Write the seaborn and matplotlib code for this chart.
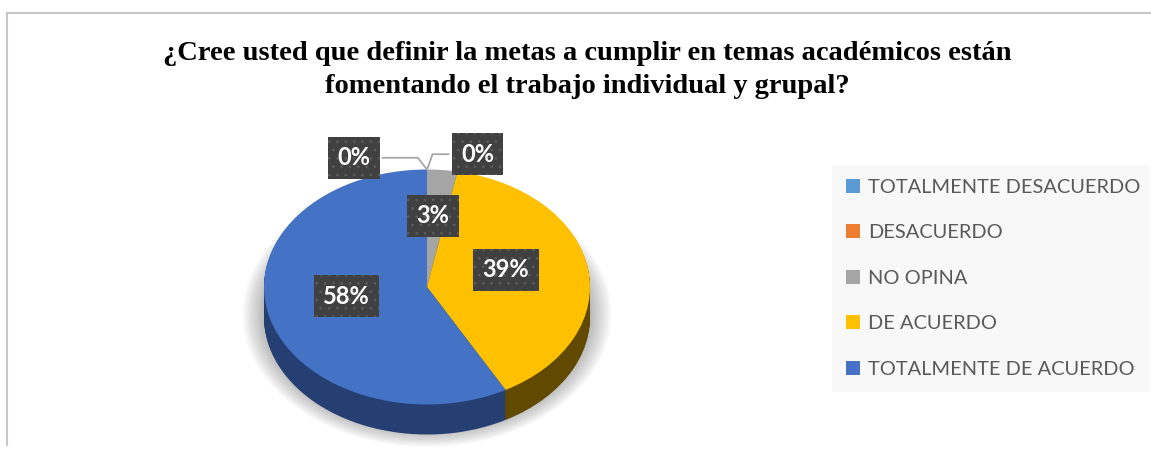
import numpy as np
import pandas as pd
import seaborn as sns
import matplotlib.pyplot as plt

# chart data
categories = ["TOTALMENTE DESACUERDO", "DESACUERDO", "NO OPINA", "DE ACUERDO", "TOTALMENTE DE ACUERDO"]
percentages = [0, 0, 3, 39, 58]
pct_labels = ["0%", "0%", "3%", "39%", "58%"]
top_colors = ["#5B9BD5", "#ED7D31", "#A5A5A5", "#FFC000", "#4472C4"]
side_colors = ["#2E4D6B", "#77401A", "#535353", "#614A00", "#253F72"]
title = ("¿Cree usted que definir la metas a cumplir en temas académicos están\n"
         "fomentando el trabajo individual y grupal?")

df = pd.DataFrame({"categoria": categories, "pct": percentages})

sns.set_style("white")
plt.rcParams['font.family'] = ['Lato', 'DejaVu Sans']
plt.rcParams['hatch.linewidth'] = 0.8

W, H = 1151, 450
fig = plt.figure(figsize=(W / 100, H / 100), dpi=100)

# thin frame on top / left like the original chart area
bg = fig.add_axes([7 / W, 5 / H, 1 - 7 / W, 1 - 18 / H])
bg.set_xticks([])
bg.set_yticks([])
bg.patch.set_alpha(0)
for s in ['right', 'bottom']:
    bg.spines[s].set_visible(False)
for s in ['top', 'left']:
    bg.spines[s].set_color('#c8c8c8')
    bg.spines[s].set_linewidth(1.5)

# pie axes: squashed so the pie looks tilted
cx, cy = 427, 287      # pixel centre of the top face
sx, sy = 163, 117.5    # pixel radius in x / y
xlim, ylim = (-1.5, 1.5), (-1.4, 1.5)
ax = fig.add_axes([(cx + xlim[0] * sx) / W, (H - (cy - ylim[0] * sy)) / H,
                   (xlim[1] - xlim[0]) * sx / W, (ylim[1] - ylim[0]) * sy / H])

depth = 30 / sy
n_layers = 40

# soft shadow
for r in np.linspace(1.13, 1.0, 10):
    ax.pie([1], radius=r, center=(0, -depth * 0.9), colors=['#000000'],
           wedgeprops=dict(alpha=0.033, linewidth=0))

# side of the pie (stacked layers)
for k in range(n_layers, 0, -1):
    ax.pie(df["pct"], colors=side_colors, startangle=90, counterclock=False,
           center=(0, -depth * k / n_layers), wedgeprops=dict(linewidth=0))

# top face
wedges, _ = ax.pie(df["pct"], colors=top_colors, startangle=90, counterclock=False,
                   wedgeprops=dict(linewidth=0))

ax.set_xlim(*xlim)
ax.set_ylim(*ylim)
ax.set_aspect('auto')
ax.axis('off')

box = dict(boxstyle='square,pad=0.4', facecolor='#404040', edgecolor='#5a5a5a',
           linewidth=0, hatch='..')
zero_pos = [(-0.45, 1.10), (0.31, 1.13)]
zero_angle = [128, 70]
zi = 0
for w, lab, v in zip(wedges, pct_labels, percentages):
    if v > 0:
        mid = np.deg2rad((w.theta1 + w.theta2) / 2)
        ax.text(0.5 * np.cos(mid) - 0.01, 0.55 * np.sin(mid) + 0.06, lab, ha='center', va='center',
                fontsize=17, fontweight='bold', color='white', bbox=box)
    else:
        t = np.deg2rad(w.theta1)
        ax.annotate(lab, xy=(np.cos(t), np.sin(t)), xytext=zero_pos[zi],
                    ha='center', va='center', fontsize=17, fontweight='bold', color='white',
                    bbox=box,
                    arrowprops=dict(arrowstyle='-', color='#a6a6a6', lw=1.3, shrinkB=0,
                                    connectionstyle=f'angle,angleA=0,angleB={zero_angle[zi]},rad=0'))
        zi += 1

fig.legend(wedges, categories, loc='upper left',
           bbox_to_anchor=(832 / W, 1 - 392 / H, 318 / W, 227 / H), mode='expand',
           frameon=True, fancybox=False, facecolor='#f8f8f8', edgecolor='none', framealpha=1,
           fontsize=14.4, labelcolor='#595959', handlelength=0.7, handleheight=0.7,
           handletextpad=0.4, labelspacing=1.42, borderpad=0.7, borderaxespad=0)

fig.text(587 / W, 1 - 70 / H, title, ha='center', va='center', fontsize=20.5, color='black',
         fontweight='bold', family='Liberation Serif', linespacing=1.4)

fig.savefig('out.png', dpi=100)
